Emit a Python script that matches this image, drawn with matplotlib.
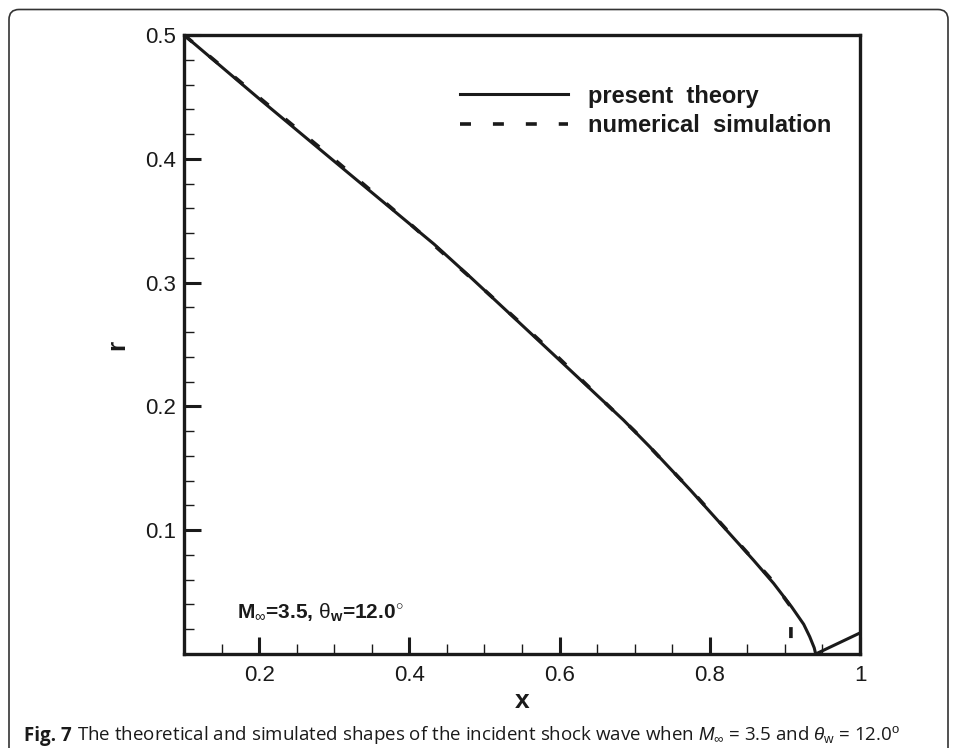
#!/usr/bin/env python3

"""Incident shock wave shape: present theory vs numerical simulation"""

import matplotlib
matplotlib.use('Agg')
import matplotlib.pyplot as plt
from matplotlib.ticker import MultipleLocator, FixedLocator
from matplotlib.patches import FancyBboxPatch

# shock shape (x, r)
x_theory = [0.100, 0.202, 0.296, 0.433, 0.482, 0.590, 0.685, 0.720, 0.774,
            0.820, 0.858, 0.885, 0.909, 0.925, 0.933, 0.939, 0.941]
r_theory = [0.500, 0.4475, 0.400, 0.331, 0.304, 0.243, 0.189, 0.1674, 0.1325,
            0.1015, 0.0759, 0.057, 0.038, 0.024, 0.014, 0.005, 0.000]

# reflected shock from the axis
x_refl = [0.941, 1.000]
r_refl = [0.000, 0.017]

x_sim = [0.100, 0.200, 0.300, 0.400, 0.500, 0.600, 0.700, 0.780, 0.840,
         0.880, 0.908, 0.908]
r_sim = [0.500, 0.4495, 0.3995, 0.348, 0.294, 0.2385, 0.180, 0.129, 0.0885,
         0.0615, 0.038, 0.000]

x_ticks = [0.2, 0.4, 0.6, 0.8, 1.0]
x_ticklabels = ['0.2', '0.4', '0.6', '0.8', '1']
r_ticks = [0.1, 0.2, 0.3, 0.4, 0.5]
r_ticklabels = ['0.1', '0.2', '0.3', '0.4', '0.5']

INK = '#1a1a1a'


def main():
    plt.rcParams['font.family'] = ['Liberation Sans', 'DejaVu Sans']
    plt.rcParams['mathtext.fontset'] = 'custom'
    plt.rcParams['mathtext.rm'] = 'Liberation Sans'
    plt.rcParams['mathtext.it'] = 'Liberation Sans:italic'
    plt.rcParams['mathtext.bf'] = 'Liberation Sans:bold'

    fig = plt.figure(figsize=(9.56, 7.48), dpi=100)
    ax = fig.add_axes([0.1925, 0.1257, 0.7071, 0.8275])

    lw = 2.2
    ax.plot(x_theory, r_theory, color=INK, lw=lw, label='present  theory')
    ax.plot(x_refl, r_refl, color=INK, lw=lw)
    ax.plot(x_sim, r_sim, color=INK, lw=lw + 0.4,
            linestyle=(0, (7.9 / (lw + 0.4), 15.8 / (lw + 0.4))),
            label='numerical  simulation')

    ax.set_xlim(0.1, 1.0)
    ax.set_ylim(0.0, 0.5)
    ax.xaxis.set_major_locator(FixedLocator(x_ticks))
    ax.set_xticklabels(x_ticklabels)
    ax.yaxis.set_major_locator(FixedLocator(r_ticks))
    ax.set_yticklabels(r_ticklabels)
    ax.xaxis.set_minor_locator(MultipleLocator(0.05))
    ax.yaxis.set_minor_locator(MultipleLocator(0.02))
    ax.tick_params(which='both', direction='in', top=False, right=False,
                   colors=INK, labelsize=16)
    ax.tick_params(which='major', length=12, width=2.2)
    ax.tick_params(axis='y', which='major', pad=6)
    ax.tick_params(axis='x', which='major', pad=8)
    ax.tick_params(which='minor', length=7, width=1.0)
    for sp in ax.spines.values():
        sp.set_linewidth(2.4)
        sp.set_color(INK)

    ax.set_xlabel('x', fontsize=19, fontweight='bold', color=INK)
    ax.xaxis.set_label_coords(0.5, -0.057)
    ax.set_ylabel('r', fontsize=19, fontweight='bold', color=INK)
    ax.yaxis.set_label_coords(-0.081, 0.5)

    leg = ax.legend(loc='upper left', bbox_to_anchor=(0.408, 0.92),
                    frameon=False, fontsize=17, handlelength=4.58,
                    handletextpad=0.85, labelspacing=0.27, borderpad=0,
                    borderaxespad=0)
    for t in leg.get_texts():
        t.set_fontweight('bold')
        t.set_color(INK)

    ax.text(0.078, 0.066,
            r'M$_{\infty}$=3.5, $\mathrm{\theta}_{\mathbf{w}}$=12.0$^{\circ}$',
            transform=ax.transAxes, fontsize=15, fontweight='bold',
            color=INK, va='center', ha='left')

    # caption under the plot
    cap_font = ['Open Sans', 'DejaVu Sans']
    t1 = fig.text(0.025, 0.016, 'Fig. 7', fontsize=13.5, fontweight='bold',
                  family=cap_font, color=INK, va='center', ha='left')
    ax.annotate(r'The theoretical and simulated shapes of the incident shock wave '
                r'when $M_{\infty}$ = 3.5 and $\theta_{\rm w}$ = 12.0$^{\rm o}$',
                xy=(1, 0), xycoords=t1, xytext=(4, 0),
                textcoords='offset points', fontsize=13.5, family=cap_font,
                color=INK, va='bottom', ha='left', annotation_clip=False)

    # rounded outer frame of the figure panel
    frame = FancyBboxPatch((0.09, -0.3), 9.39, 7.685,
                           boxstyle='round,pad=0,rounding_size=0.1',
                           transform=fig.dpi_scale_trans, fill=False,
                           edgecolor='#333333', lw=1.2)
    fig.add_artist(frame)

    fig.savefig('out.png', dpi=100)


if __name__ == '__main__':
    main()
